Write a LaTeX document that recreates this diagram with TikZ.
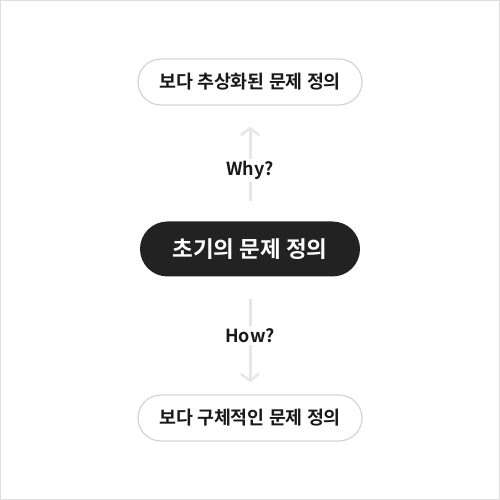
\documentclass[tikz,border=0pt]{standalone}
\usepackage{fontspec}
\setmainfont{Noto Sans CJK KR}[BoldFont={Noto Sans CJK KR Bold}]
\usetikzlibrary{positioning,arrows.meta}
\definecolor{pillgray}{HTML}{D4D4D4}
\definecolor{arrowgray}{HTML}{E6E6E6}
\definecolor{darkpill}{HTML}{222222}
\definecolor{framegray}{HTML}{DDDDDD}
\begin{document}
\begin{tikzpicture}[x=1pt,y=1pt,
	pill/.style={draw=pillgray,line width=1.2pt,fill=white,rounded corners=23pt,
		minimum width=224pt,minimum height=46pt,inner sep=0pt,
		font=\fontsize{18.4pt}{21pt}\selectfont\bfseries,text=black!90},
	mainpill/.style={fill=darkpill,rounded corners=27.5pt,
		minimum width=220pt,minimum height=55pt,inner sep=0pt,
		font=\fontsize{22.5pt}{26pt}\selectfont\bfseries,text=white},
	askarrow/.style={draw=arrowgray,line width=3pt,
		-{Straight Barb[length=7pt,width=18pt,line width=2.5pt]}},
	asklabel/.style={fill=white,inner sep=2pt,
		font=\fontsize{18pt}{21pt}\selectfont\bfseries,text=black!90}]
	\useasboundingbox (0,0) rectangle (500,500);
	\draw[framegray,line width=1pt] (0.5,0.5) rectangle (499.5,499.5);
	% main problem
	\node[mainpill] (init) at (250,251) {초기의 문제 정의};
	% more abstract / more concrete
	\node[pill] (abstract) at (250,418) {보다 추상화된 문제 정의};
	\node[pill] (concrete) at (250,82) {보다 구체적인 문제 정의};
	% why / how
	\draw[askarrow,shorten <=20pt,shorten >=21pt] (init) -- node[asklabel,pos=0.44] (why) {Why?} (abstract);
	\draw[askarrow,shorten <=22pt,shorten >=12pt] (init) -- node[asklabel,pos=0.5] (how) {How?} (concrete);
\end{tikzpicture}
\end{document}
